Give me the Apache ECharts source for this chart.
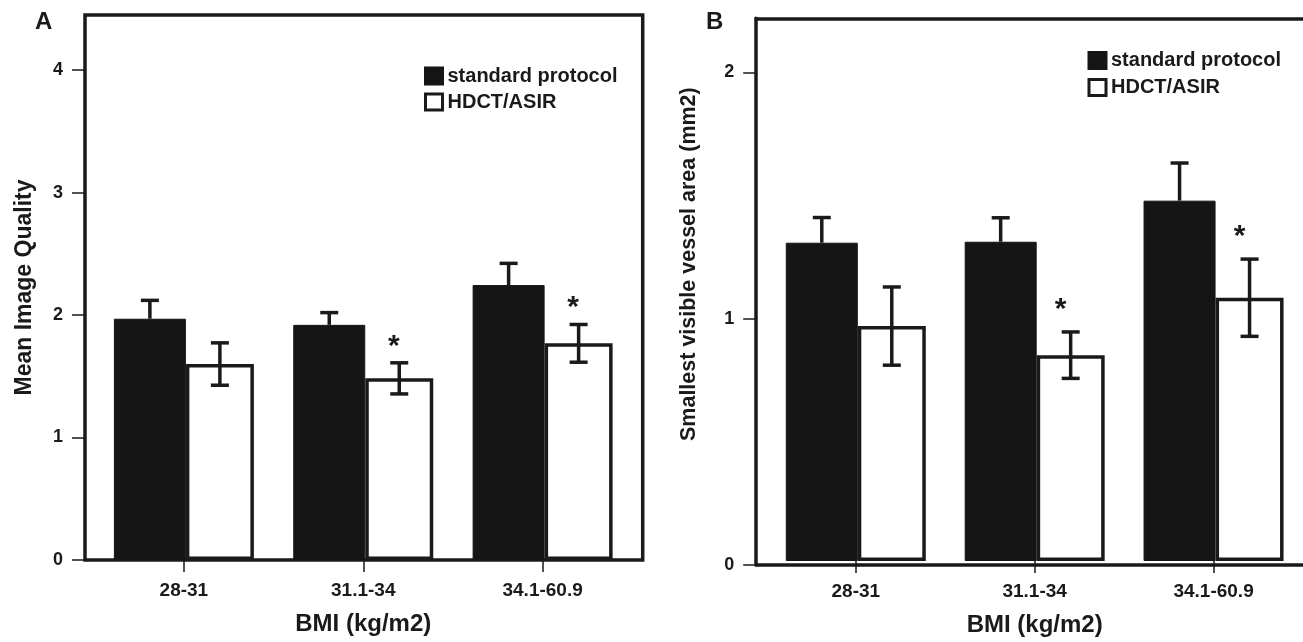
<!DOCTYPE html>
<html>
<head>
<meta charset="utf-8">
<script src="https://cdn.jsdelivr.net/npm/echarts@6/dist/echarts.min.js"></script>
<style>
html,body{margin:0;padding:0;background:#fff;}
#chart{width:1303px;height:642px;}
</style>
</head>
<body>
<div id="chart"></div>
<script>
// ---- data ----
const categories = ['28-31', '31.1-34', '34.1-60.9'];
const seriesNames = ['standard protocol', 'HDCT/ASIR'];
const xTitle = 'BMI (kg/m2)';
const panelLabels = ['A', 'B'];
const yTitles = ['Mean Image Quality', 'Smallest visible vessel area (mm2)'];
const yTicksA = [0, 1, 2, 3, 4];
const yTicksB = [0, 1, 2];
const yMaxA = 4.45;
const yMaxB = 2.22;

const stdA = [1.97, 1.92, 2.245];
const stdErrA = [0.15, 0.10, 0.177];
const hdctA = [1.60, 1.483, 1.769];
const hdctErrA = [0.173, 0.127, 0.154];
const sigA = [0, 1, 1];

const stdB = [1.302, 1.306, 1.474];
const stdErrB = [0.103, 0.098, 0.154];
const hdctB = [0.961, 0.842, 1.077];
const hdctErrB = [0.16, 0.095, 0.158];
const sigB = [0, 1, 1];

// ---- style ----
const INK = '#1a1a1a';
const FONT = "'Liberation Sans', Arial, Helvetica, sans-serif";
const BW_STD = 72, BW_HD = 68;
const OFF_STD = -(BW_STD + BW_HD) / 2 + BW_STD / 2;   // center of black bar from category center
const OFF_HD = -(BW_STD + BW_HD) / 2 + BW_STD + BW_HD / 2;
const FRAME = { color: INK, width: 3.5 };

function errRender(offset, star, upOnly) {
  return function (params, api) {
    const i = api.value(0), v = api.value(1), e = api.value(2), s = api.value(3);
    const c = api.coord([i, v]);
    const x = c[0] + offset;
    const yt = api.coord([i, v + e])[1];
    const yb = upOnly ? c[1] : api.coord([i, v - e])[1];
    const hw = 9;
    const st = { stroke: INK, lineWidth: 3.5 };
    const children = [
      { type: 'line', shape: { x1: x, y1: yt, x2: x, y2: yb }, style: st },
      { type: 'line', shape: { x1: x - hw, y1: yt, x2: x + hw, y2: yt }, style: st }
    ];
    if (!upOnly) {
      children.push({ type: 'line', shape: { x1: x - hw, y1: yb, x2: x + hw, y2: yb }, style: st });
    }
    if (s) {
      children.push({
        type: 'text',
        style: { text: '*', x: x + star.dx, y: yt - star.dy, fill: INK,
          font: 'bold 30px ' + FONT, align: 'center', verticalAlign: 'middle' }
      });
    }
    return { type: 'group', children: children };
  };
}

function errData(vals, errs, sig) {
  return vals.map((v, i) => [i, v, errs[i], sig[i]]);
}

const panels = [
  { data: { left: 94.2, width: 538.1, top: 15, height: 545 },
    box: { left: 85, width: 557.7, top: 15, height: 545 }, closed: true,
    yMax: yMaxA, ticks: yTicksA, std: stdA, stdErr: stdErrA, hd: hdctA, hdErr: hdctErrA, sig: sigA,
    yTitleSize: 23, yNameGap: 49, yPad: [0, 0, 0, 0],
    star: { dx: -5.5, dy: 16.5 },
    legend: { left: 424, top: 66, gap: 6 },
    title: { left: 35, top: 10 } },
  { data: { left: 766.35, width: 538.5, top: 18.3, height: 546.7 },
    box: { left: 756.2, width: 620, top: 18.3, height: 546.7 }, closed: false,
    yMax: yMaxB, ticks: yTicksB, std: stdB, stdErr: stdErrB, hd: hdctB, hdErr: hdctErrB, sig: sigB,
    yTitleSize: 21.5, yNameGap: 56, yPad: [0, 0, 0, 55],
    star: { dx: -10, dy: 22.5 },
    legend: { left: 1087.5, top: 50.5, gap: 7 },
    title: { left: 706, top: 10 } }
];

const option = {
  backgroundColor: '#fff',
  animation: false,
  title: [], legend: [], grid: [], xAxis: [], yAxis: [], series: []
};

panels.forEach((p, k) => {
  const gD = option.grid.length;
  option.grid.push({ left: p.data.left, width: p.data.width, top: p.data.top, height: p.data.height, show: false });
  option.grid.push({ left: p.box.left, width: p.box.width, top: p.box.top, height: p.box.height,
    show: p.closed, borderColor: INK, borderWidth: 3.5, backgroundColor: 'transparent' });
  const gB = gD + 1;

  option.title.push({ text: panelLabels[k], left: p.title.left, top: p.title.top, padding: 0,
    textStyle: { fontFamily: FONT, fontSize: 24, fontWeight: 'bold', color: INK } });

  option.legend.push({
    data: seriesNames, orient: 'vertical', left: p.legend.left, top: p.legend.top, padding: 0,
    icon: 'rect', itemWidth: 17, itemHeight: 16, itemGap: p.legend.gap, selectedMode: false,
    itemStyle: { borderWidth: 3 },
    textStyle: { fontFamily: FONT, fontSize: 20, fontWeight: 'bold', color: INK }
  });

  const xD = option.xAxis.length;
  option.xAxis.push({
    gridIndex: gD, type: 'category', data: categories,
    axisLine: { show: false },
    axisTick: { show: true, alignWithLabel: true, length: 12, lineStyle: { color: INK, width: 1.5 } },
    axisLabel: { margin: 21, fontFamily: FONT, fontSize: 19, fontWeight: 'bold', color: INK },
    name: xTitle, nameLocation: 'middle', nameGap: 52,
    nameTextStyle: { fontFamily: FONT, fontSize: 24, fontWeight: 'bold', color: INK }
  });
  // frame edges (bottom / top) for the open-sided panel
  ['bottom', 'top'].forEach(pos => {
    option.xAxis.push({ gridIndex: gB, type: 'value', min: 0, max: 1, position: pos,
      axisLine: { show: !p.closed, onZero: false, lineStyle: FRAME },
      axisTick: { show: false }, axisLabel: { show: false }, splitLine: { show: false } });
  });

  const yD = option.yAxis.length;
  option.yAxis.push({ gridIndex: gD, type: 'value', min: 0, max: p.yMax, show: false });
  option.yAxis.push({
    gridIndex: gB, type: 'value', min: 0, max: p.yMax, interval: 1,
    axisLine: { show: !p.closed, onZero: false, lineStyle: FRAME }, splitLine: { show: false },
    axisTick: { show: true, length: 13, customValues: p.ticks, lineStyle: { color: INK, width: 1.5 } },
    axisLabel: { margin: 22, customValues: p.ticks, fontFamily: FONT, fontSize: 18, fontWeight: 'bold', color: INK },
    name: yTitles[k], nameLocation: 'middle', nameGap: p.yNameGap, nameRotate: 90,
    nameTextStyle: { fontFamily: FONT, fontSize: p.yTitleSize, fontWeight: 'bold', color: INK, padding: p.yPad }
  });

  option.series.push({
    name: seriesNames[0], type: 'bar', xAxisIndex: xD, yAxisIndex: yD, data: p.std,
    barWidth: BW_STD, barGap: '0%',
    itemStyle: { color: '#151515', borderColor: '#151515', borderWidth: 1 }
  });
  option.series.push({
    name: seriesNames[1], type: 'bar', xAxisIndex: xD, yAxisIndex: yD, data: p.hd,
    barWidth: BW_HD, barGap: '0%',
    itemStyle: { color: '#ffffff', borderColor: INK, borderWidth: 3.5 }
  });
  option.series.push({
    type: 'custom', xAxisIndex: xD, yAxisIndex: yD, z: 5, silent: true,
    data: errData(p.std, p.stdErr, [0, 0, 0]),
    renderItem: errRender(OFF_STD, p.star, true)
  });
  option.series.push({
    type: 'custom', xAxisIndex: xD, yAxisIndex: yD, z: 5, silent: true,
    data: errData(p.hd, p.hdErr, p.sig),
    renderItem: errRender(OFF_HD, p.star, false)
  });
});

const chart = echarts.init(document.getElementById('chart'), null, { renderer: 'canvas' });
chart.setOption(option);
</script>
</body>
</html>
